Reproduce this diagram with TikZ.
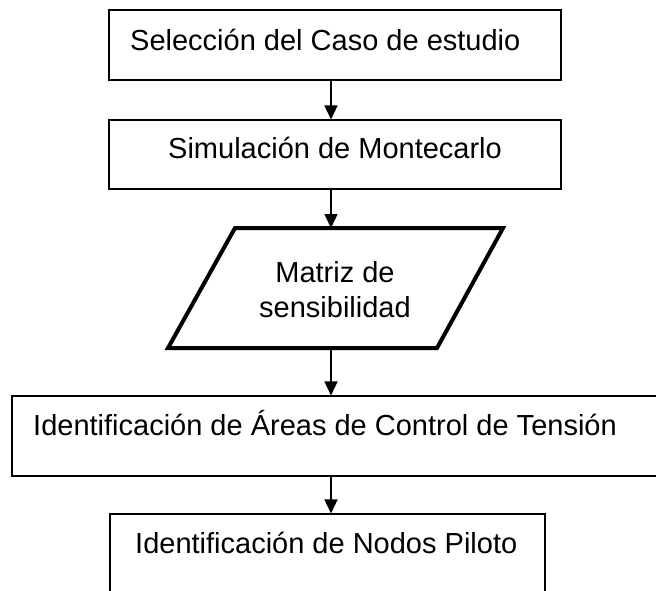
\documentclass[tikz,border=0pt]{standalone}
\usepackage{fontspec}
\setmainfont{Liberation Sans}
\usetikzlibrary{arrows.meta}
\begin{document}
\begin{tikzpicture}[x=1pt,y=-1pt,
  box/.style={draw=black,line width=1.1pt,inner sep=0pt,fill=white},
  label text/.style={font=\fontsize{29}{35}\selectfont,inner sep=0pt,text=black},
  arr/.style={line width=1.5pt,-{Triangle[width=13pt,length=14pt]}},
  para/.style={draw=black,line width=4pt,line join=miter}]
\useasboundingbox[fill=white] (0,0) rectangle (656,590);
% boxes
\node[box,minimum width=452pt,minimum height=70pt] (b1) at (335,45) {};
\node[box,minimum width=452pt,minimum height=69pt] (b2) at (335,154.5) {};
\node[box,minimum width=650pt,minimum height=80pt] (b3) at (337,436) {};
\node[box,minimum width=435pt,minimum height=90pt] (b4) at (327.5,559) {};
% parallelogram
\draw[para] (235,228) -- (503,228) -- (437,348) -- (168,348) -- cycle;
\coordinate (pt) at (331,228);
\coordinate (pb) at (331,348);
% texts
\node[label text,anchor=base west] (t1) at (130,50) {Selección del Caso de estudio};
\node[label text,anchor=base west] (t2) at (168,158) {Simulación de Montecarlo};
\node[label text,anchor=base] (t3a) at (335,282) {Matriz de};
\node[label text,anchor=base] (t3b) at (335,317) {sensibilidad};
\node[label text,anchor=base west] (t4) at (33,435) {Identificación de Áreas de Control de Tensión};
\node[label text,anchor=base west] (t5) at (135,553) {Identificación de Nodos Piloto};
% connectors
\draw[arr] (b1.south -| pt) -- (b2.north -| pt);
\draw[arr] (b2.south -| pt) -- (pt);
\draw[arr] (pb) -- (b3.north -| pt);
\draw[arr] (b3.south -| pt) -- (b4.north -| pt);
\end{tikzpicture}
\end{document}
